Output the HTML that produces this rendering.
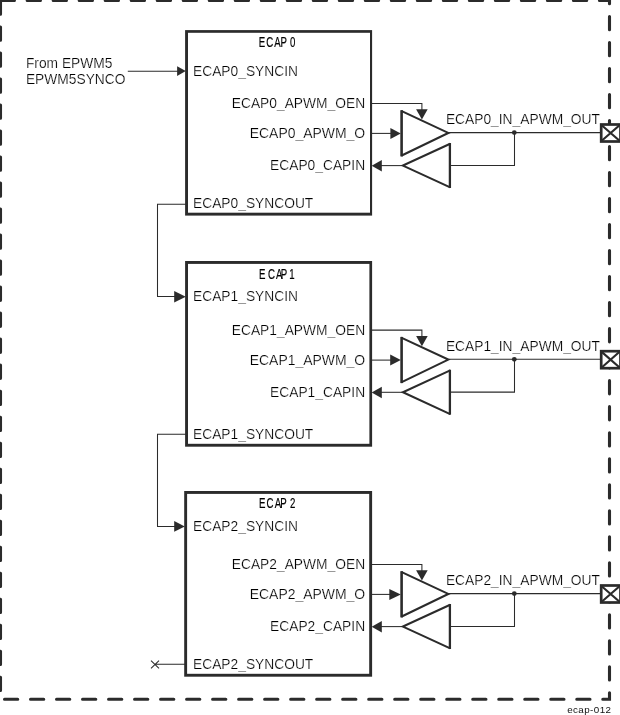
<!DOCTYPE html>
<html><head><meta charset="utf-8"><title>ecap-012</title>
<style>
html,body{margin:0;padding:0;background:#fff;}
body{width:620px;height:715px;overflow:hidden;}
svg{display:block;filter:grayscale(1);}
text{font-family:"Liberation Sans",sans-serif;}
.l{font-size:14.4px;fill:#000000;stroke:#fff;stroke-width:0.22px;}
.t{font-size:14px;fill:#000;stroke:#000;stroke-width:0.2px;}
.w{fill:none;stroke:#2b2b2b;stroke-width:1.05;}
.a{fill:#2b2b2b;stroke:none;}
.tri{fill:none;stroke:#2b2b2b;stroke-width:2.1;stroke-linejoin:miter;}
.trv{fill:none;stroke:#2b2b2b;stroke-width:2.6;}
</style></head><body>
<svg width="620" height="715" viewBox="0 0 620 715">
<rect width="620" height="715" fill="#fff"/>
<path d="M0.5 0.5H609.5V699.3H0.5Z" fill="none" stroke="#2b2b2b" stroke-width="3.1" stroke-dasharray="13.2 12.812" stroke-dashoffset="-0.7" stroke-linecap="round"/>

<rect x="185.10" y="30.10" width="187.00" height="185.50" fill="#2b2b2b"/>
<rect x="188.00" y="32.80" width="182.00" height="179.90" fill="#fff"/>
<text class="t" transform="translate(0 47) scale(0.69 1)" x="375.13 385.83 397.39 406.58 420.14">ECAP0</text>
<text class="l" transform="translate(193.00 76.00) scale(0.958 1)">ECAP0_SYNCIN</text>
<text class="l" transform="translate(365.10 108.00) scale(0.958 1)" text-anchor="end">ECAP0_APWM_OEN</text>
<text class="l" transform="translate(365.10 138.00) scale(0.969 1)" text-anchor="end">ECAP0_APWM_O</text>
<text class="l" transform="translate(365.10 170.00) scale(0.958 1)" text-anchor="end">ECAP0_CAPIN</text>
<text class="l" transform="translate(193.00 208.00) scale(0.958 1)">ECAP0_SYNCOUT</text>
<text class="l" transform="translate(445.90 124.00) scale(0.958 1)">ECAP0_IN_APWM_OUT</text>
<path class="w" d="M371.1 103.40H421.9V110.40"/>
<path class="a" d="M416.1 109.20H427.7L421.9 119.60Z"/>
<path class="w" d="M371.1 133.40H392"/>
<path class="a" d="M390.40000000000003 127.90V138.90L400.8 133.40Z"/>
<path d="M401.6 110.80V155.80L447 132.90Z" fill="#fff"/>
<path class="tri" d="M401.2 110.90L448.3 132.90L401.2 155.70"/>
<path class="trv" d="M401.6 110.20V156.40"/>
<path d="M449.9 143.80V187.20L404 165.60Z" fill="#fff"/>
<path class="tri" d="M450.2 143.70L402.9 165.60L450.2 187.40"/>
<path class="trv" d="M449.9 143.00V188.00" style="stroke-width:2.3"/>
<path class="w" d="M380 165.60H402.5"/>
<path class="a" d="M381.8 160.00V171.50L371.70000000000005 165.70Z"/>
<path class="w" d="M449 132.60H601"/>
<path class="w" d="M450 165.40H514.5V132.60"/>
<circle cx="514.3" cy="132.60" r="2.4" fill="#2b2b2b"/>
<rect x="601.2" y="124.50" width="19.3" height="17" fill="#fff" stroke="#2b2b2b" stroke-width="2.7"/>
<path d="M601.7 125.20L619.5 140.80M601.7 140.80L619.5 125.20" stroke="#2b2b2b" stroke-width="2.1" fill="none"/>
<rect x="185.10" y="261.00" width="187.00" height="185.70" fill="#2b2b2b"/>
<rect x="188.00" y="263.90" width="181.40" height="179.90" fill="#fff"/>
<text class="t" transform="translate(0 279) scale(0.69 1)" x="375.28 388.29 400.14 406.87 419.06">ECAP1</text>
<text class="l" transform="translate(193.00 301.00) scale(0.958 1)">ECAP1_SYNCIN</text>
<text class="l" transform="translate(365.10 335.00) scale(0.958 1)" text-anchor="end">ECAP1_APWM_OEN</text>
<text class="l" transform="translate(365.10 365.00) scale(0.969 1)" text-anchor="end">ECAP1_APWM_O</text>
<text class="l" transform="translate(365.10 397.00) scale(0.958 1)" text-anchor="end">ECAP1_CAPIN</text>
<text class="l" transform="translate(193.00 439.00) scale(0.958 1)">ECAP1_SYNCOUT</text>
<text class="l" transform="translate(445.90 351.00) scale(0.958 1)">ECAP1_IN_APWM_OUT</text>
<path class="w" d="M371.1 330.10H421.9V337.10"/>
<path class="a" d="M416.1 335.90H427.7L421.9 346.30Z"/>
<path class="w" d="M371.1 360.10H392"/>
<path class="a" d="M390.20000000000005 354.60V365.60L400.8 360.10Z"/>
<path d="M401.6 337.50V382.50L447 359.60Z" fill="#fff"/>
<path class="tri" d="M401.2 337.60L448.3 359.60L401.2 382.40"/>
<path class="trv" d="M401.6 336.90V383.10"/>
<path d="M449.9 370.50V413.90L404 392.30Z" fill="#fff"/>
<path class="tri" d="M450.2 370.40L402.9 392.30L450.2 414.10"/>
<path class="trv" d="M449.9 369.70V414.70" style="stroke-width:2.3"/>
<path class="w" d="M380 392.30H402.5"/>
<path class="a" d="M381.8 386.70V398.20L371.70000000000005 392.40Z"/>
<path class="w" d="M449 359.30H601"/>
<path class="w" d="M450 392.10H514.5V359.30"/>
<circle cx="514.3" cy="359.30" r="2.4" fill="#2b2b2b"/>
<rect x="601.2" y="351.20" width="19.3" height="17" fill="#fff" stroke="#2b2b2b" stroke-width="2.7"/>
<path d="M601.7 351.90L619.5 367.50M601.7 367.50L619.5 351.90" stroke="#2b2b2b" stroke-width="2.1" fill="none"/>
<rect x="184.20" y="491.00" width="187.90" height="185.70" fill="#2b2b2b"/>
<rect x="187.10" y="493.90" width="182.10" height="179.90" fill="#fff"/>
<text class="t" transform="translate(0 508) scale(0.69 1)" x="375.28 386.12 398.12 406.14 420.14">ECAP2</text>
<text class="l" transform="translate(193.00 531.00) scale(0.958 1)">ECAP2_SYNCIN</text>
<text class="l" transform="translate(365.10 569.00) scale(0.958 1)" text-anchor="end">ECAP2_APWM_OEN</text>
<text class="l" transform="translate(365.10 599.00) scale(0.969 1)" text-anchor="end">ECAP2_APWM_O</text>
<text class="l" transform="translate(365.10 631.00) scale(0.958 1)" text-anchor="end">ECAP2_CAPIN</text>
<text class="l" transform="translate(193.00 669.00) scale(0.958 1)">ECAP2_SYNCOUT</text>
<text class="l" transform="translate(445.90 585.00) scale(0.958 1)">ECAP2_IN_APWM_OUT</text>
<path class="w" d="M371.1 564.40H421.9V571.40"/>
<path class="a" d="M416.1 570.20H427.7L421.9 580.60Z"/>
<path class="w" d="M371.1 594.40H392"/>
<path class="a" d="M389.3 588.90V599.90L400.8 594.40Z"/>
<path d="M401.6 571.80V616.80L447 593.90Z" fill="#fff"/>
<path class="tri" d="M401.2 571.90L448.3 593.90L401.2 616.70"/>
<path class="trv" d="M401.6 571.20V617.40"/>
<path d="M449.9 604.80V648.20L404 626.60Z" fill="#fff"/>
<path class="tri" d="M450.2 604.70L402.9 626.60L450.2 648.40"/>
<path class="trv" d="M449.9 604.00V649.00" style="stroke-width:2.3"/>
<path class="w" d="M380 626.60H402.5"/>
<path class="a" d="M381.8 621.00V632.50L371.70000000000005 626.70Z"/>
<path class="w" d="M449 593.60H601"/>
<path class="w" d="M450 626.40H514.5V593.60"/>
<circle cx="514.3" cy="593.60" r="2.4" fill="#2b2b2b"/>
<rect x="601.2" y="585.50" width="19.3" height="17" fill="#fff" stroke="#2b2b2b" stroke-width="2.7"/>
<path d="M601.7 586.20L619.5 601.80M601.7 601.80L619.5 586.20" stroke="#2b2b2b" stroke-width="2.1" fill="none"/>
<text class="l" transform="translate(25.90 68.00) scale(0.958 1)">From EPWM5</text>
<text class="l" transform="translate(25.90 84.00) scale(0.958 1)">EPWM5SYNCO</text>
<path class="w" d="M127.8 71.2H178"/>
<path class="a" d="M177.1 66.2V75.9L185.8 71.1Z"/>
<path class="w" d="M186 204.2H157.5V296.5H176"/>
<path class="a" d="M174.2 291V302.6L185.8 296.7Z"/>
<path class="w" d="M186 434.2H157.5V526.5H176"/>
<path class="a" d="M174.2 521V531.8L184.8 526.4Z"/>
<path class="w" d="M185 664.2H155M151 660.6L159 668.4M151 668.4L159 660.6"/>
<text x="567.2" y="713" style="font-size:9.8px;fill:#111;letter-spacing:0.42px">ecap-012</text>
</svg>
</body></html>
